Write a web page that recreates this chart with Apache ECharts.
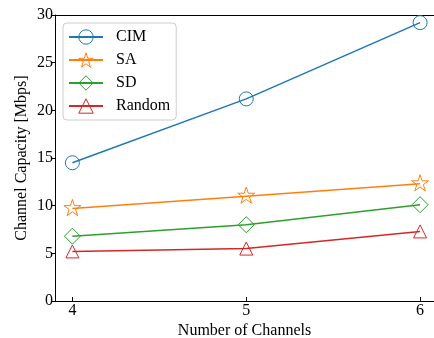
<!DOCTYPE html>
<html>
<head>
<meta charset="utf-8">
<script src="https://cdn.jsdelivr.net/npm/echarts@6/dist/echarts.min.js"></script>
<style>
  html, body { margin: 0; padding: 0; background: #fff; }
  #chart { width: 434px; height: 338px; }
</style>
</head>
<body>
<div id="chart"></div>
<script>
// Channel capacity versus number of channels for each allocation scheme
const channels = [4, 5, 6];
const cimValues = [14.5, 21.2, 29.2];
const saValues = [9.7, 11.0, 12.3];
const sdValues = [6.8, 8.0, 10.1];
const randomValues = [5.2, 5.5, 7.3];
const seriesNames = ['CIM', 'SA', 'SD', 'Random'];
const xTickValues = [4, 5, 6];

const FONT = 'Liberation Serif';
const STAR = 'path://M100 0L122.45 69.1L195.1 69.1L136.3 111.8L158.8 180.9L100 138.2L41.2 180.9L63.7 111.8L4.9 69.1L77.55 69.1Z';

function pairs(values) {
  return channels.map((c, i) => [c, values[i]]);
}

function makeSeries(name, values, color, symbol, size, offset) {
  return {
    name: name,
    type: 'line',
    data: pairs(values),
    symbol: symbol,
    symbolSize: size,
    symbolKeepAspect: true,
    symbolOffset: offset || [0, 0],
    showAllSymbol: true,
    lineStyle: { color: color, width: 1.5 },
    itemStyle: { color: 'rgba(0,0,0,0)', borderColor: color, borderWidth: 1 },
    emphasis: { disabled: true },
    z: 3
  };
}

const chart = echarts.init(document.getElementById('chart'), null, { renderer: 'canvas' });

chart.setOption({
  animation: false,
  backgroundColor: '#fff',
  textStyle: { fontFamily: FONT },
  grid: { left: 55, right: 0, top: 15, bottom: 37, containLabel: false, outerBoundsMode: 'none' },
  legend: {
    orient: 'vertical',
    left: 63,
    top: 23,
    data: seriesNames,
    itemWidth: 34,
    itemHeight: 18,
    itemGap: 7,
    padding: [6, 6, 6, 5],
    backgroundColor: 'rgba(255,255,255,0.85)',
    borderColor: '#cccccc',
    borderWidth: 1,
    borderRadius: 4,
    itemStyle: { borderWidth: 1 },
    textStyle: { fontFamily: FONT, fontSize: 16, color: '#000', padding: [0, 0, 0, 8] }
  },
  xAxis: [
    {
      type: 'value',
      min: 3.9,
      max: 6.08,
      name: 'Number of Channels',
      nameLocation: 'middle',
      nameGap: 22,
      nameMoveOverlap: false,
      nameTextStyle: { fontFamily: FONT, fontSize: 16, color: '#000' },
      splitLine: { show: false },
      axisLine: { lineStyle: { color: '#000', width: 1 } },
      axisTick: { inside: true, length: 4, customValues: xTickValues, lineStyle: { color: '#000' } },
      axisLabel: { customValues: xTickValues, margin: 2, fontFamily: FONT, fontSize: 16, color: '#000' }
    },
    {
      type: 'value',
      position: 'top',
      min: 3.9,
      max: 6.08,
      splitLine: { show: false },
      axisLine: { show: true, onZero: false, lineStyle: { color: '#000', width: 1 } },
      axisTick: { show: false },
      axisLabel: { show: false }
    }
  ],
  yAxis: {
    type: 'value',
    min: 0,
    max: 30,
    interval: 5,
    name: 'Channel Capacity [Mbps]',
    nameLocation: 'middle',
    nameGap: 25,
    nameMoveOverlap: false,
    nameTextStyle: { fontFamily: FONT, fontSize: 16, color: '#000' },
    splitLine: { show: false },
    axisLine: { show: true, lineStyle: { color: '#000', width: 1 } },
    axisTick: { show: true, length: 4, lineStyle: { color: '#000' } },
    axisLabel: { margin: 2, fontFamily: FONT, fontSize: 16, color: '#000' }
  },
  series: [
    makeSeries('CIM', cimValues, '#1f77b4', 'circle', 14),
    makeSeries('SA', saValues, '#ff7f0e', STAR, 17, [0, -1]),
    makeSeries('SD', sdValues, '#2ca02c', 'diamond', 16),
    makeSeries('Random', randomValues, '#d62728', 'triangle', 13)
  ]
});
</script>
</body>
</html>
